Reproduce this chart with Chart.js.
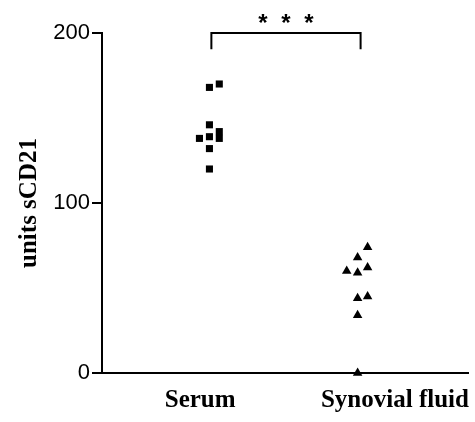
<!DOCTYPE html>
<html>
<head>
<meta charset="utf-8">
<script src="https://cdn.jsdelivr.net/npm/chart.js@4/dist/chart.umd.min.js"></script>
<style>
  html, body { margin: 0; padding: 0; background: #fff; }
  #wrap { width: 475px; height: 422px; }
</style>
</head>
<body>
<div id="wrap"><canvas id="chart"></canvas></div>
<script>
const groups = ['Serum', 'Synovial fluid'];
const serumX = [0.987, 1.053, 0.987, 0.92, 0.987, 1.053, 1.053, 0.987, 0.987];
const serumY = [168, 170, 146, 138, 139, 142, 138, 132, 120];
const synovialX = [2.047, 1.98, 1.907, 1.98, 2.047, 1.98, 2.047, 1.98, 1.98];
const synovialY = [74, 68, 60, 59, 62, 44, 45, 34, 0];
const yTicks = [0, 100, 200];
const significance = '***';

function toPoints(xs, ys) {
  return xs.map((x, i) => ({x: x, y: ys[i]}));
}

// bracket + stars above the two groups
const bracket = {
  id: 'bracket',
  afterDraw(chart) {
    const ctx = chart.ctx;
    const x = chart.scales.x, y = chart.scales.y;
    const x1 = x.getPixelForValue(1), x2 = x.getPixelForValue(2);
    const top = y.getPixelForValue(200), leg = y.getPixelForValue(190.5);
    ctx.save();
    ctx.strokeStyle = '#000';
    ctx.lineWidth = 2;
    ctx.beginPath();
    ctx.moveTo(x1, leg);
    ctx.lineTo(x1, top);
    ctx.lineTo(x2, top);
    ctx.lineTo(x2, leg);
    ctx.stroke();
    ctx.fillStyle = '#000';
    ctx.font = 'bold 24px "Liberation Sans", Arial, sans-serif';
    ctx.textAlign = 'center';
    ctx.textBaseline = 'middle';
    const mid = (x1 + x2) / 2;
    const stars = significance.split('');
    stars.forEach((s, i) => {
      ctx.fillText(s, mid + (i - 1) * 23, top - 9);
    });
    ctx.restore();
  }
};

new Chart(document.getElementById('chart'), {
  type: 'scatter',
  data: {
    datasets: [
      {
        label: groups[0],
        data: toPoints(serumX, serumY),
        pointStyle: 'rect',
        radius: 5,
        backgroundColor: '#000',
        borderColor: '#000',
        borderWidth: 0,
        clip: false
      },
      {
        label: groups[1],
        data: toPoints(synovialX, synovialY),
        pointStyle: 'triangle',
        radius: 5.5,
        backgroundColor: '#000',
        borderColor: '#000',
        borderWidth: 0,
        clip: false
      }
    ]
  },
  options: {
    responsive: true,
    maintainAspectRatio: false,
    animation: false,
    layout: { padding: { left: 0, top: 33, right: 5, bottom: 0 } },
    plugins: {
      legend: { display: false },
      tooltip: { enabled: false }
    },
    scales: {
      x: {
        type: 'linear',
        min: 0.267,
        max: 2.72,
        afterBuildTicks: (scale) => {
          scale.ticks = [{value: 0.925}, {value: 2.23}];
        },
        afterFit: (scale) => { scale.height = 49; },
        grid: { display: false },
        border: { display: true, color: '#000', width: 2 },
        ticks: {
          padding: 5,
          color: '#000',
          maxRotation: 0,
          autoSkip: false,
          font: { family: '"Liberation Serif", "Times New Roman", serif', size: 25, weight: 'bold' },
          callback: (v, i) => groups[i]
        }
      },
      y: {
        min: 0,
        max: 200,
        afterBuildTicks: (scale) => {
          scale.ticks = yTicks.map(v => ({value: v}));
        },
        afterFit: (scale) => { scale.width = 102; },
        grid: { drawOnChartArea: false, drawTicks: true, tickLength: 10, color: '#000', lineWidth: 2 },
        border: { display: true, color: '#000', width: 2 },
        ticks: {
          padding: 2,
          color: '#000',
          font: { family: '"Liberation Sans", Arial, sans-serif', size: 22 }
        },
        title: {
          display: true,
          text: 'units sCD21',
          color: '#000',
          padding: { top: 15, bottom: 0 },
          font: { family: '"Liberation Serif", "Times New Roman", serif', size: 25, weight: 'bold' }
        }
      }
    }
  },
  plugins: [bracket]
});
</script>
</body>
</html>
